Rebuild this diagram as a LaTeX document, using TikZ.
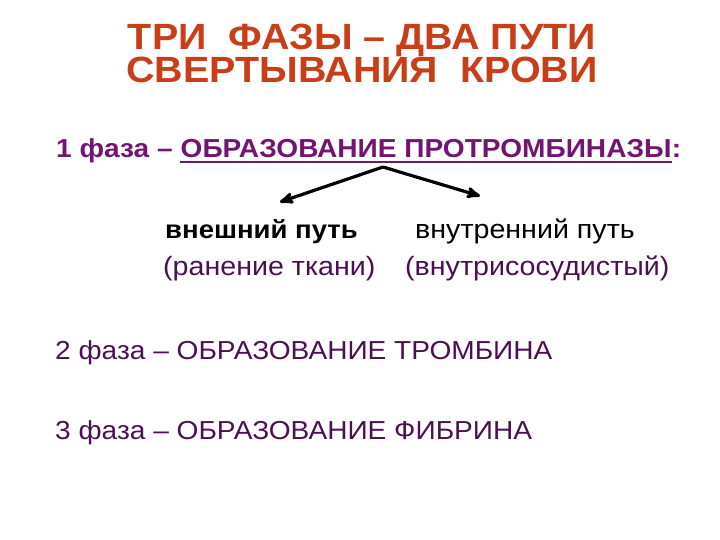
\documentclass[tikz,border=0pt]{standalone}
\usepackage{fontspec}
\setmainfont{Liberation Sans}[FakeStretch=1.08]
\definecolor{titlered}{RGB}{200,62,24}
\definecolor{phasepurple}{RGB}{115,20,115}
\definecolor{darkpurple}{RGB}{75,16,80}
\usetikzlibrary{arrows,positioning,calc}

\begin{document}
\begin{tikzpicture}[x=1pt,y=-1pt,
        title/.style = {anchor = base, text = titlered, font = \fontsize{36.5}{36.5}\selectfont\bfseries, inner sep = 0pt},
        phase/.style = {anchor = base west, text = darkpurple, font = \fontsize{26}{26}\selectfont, inner sep = 0pt},
        first/.style = {anchor = base west, text = phasepurple, font = \fontsize{26}{26}\selectfont\bfseries, inner sep = 0pt},
        route/.style = {anchor = base west, font = \fontsize{26.5}{26.5}\selectfont, inner sep = 0pt},
        line/.style = {draw = black, line width = 3.2pt, ->, >=stealth'}]
    \useasboundingbox (0,0) rectangle (720,540);
    \path node[title] (t1) at (362,50) {ТРИ\ \ ФАЗЫ – ДВА ПУТИ};
    \path node[title] (t2) at (362,83) {СВЕРТЫВАНИЯ\ \ КРОВИ};
    % 1 phase, with the underlined part
    \path node[first] (ph1) at (56,158) {1 фаза –};
    \path node[first] (ph1u) at ([xshift=7.5pt]ph1.base east) {ОБРАЗОВАНИЕ ПРОТРОМБИНАЗЫ};
    \path node[first] (ph1c) at (ph1u.base east) {:};
    \draw[phasepurple, line width = 2pt] ([yshift=-4.5pt]ph1u.base west) -- ([yshift=-4.5pt]ph1u.base east);
    \path node[route, font = \fontsize{25.5}{25.5}\selectfont\bfseries] (ext) at (165,238) {внешний путь};
    \path node[route] (int) at (415,238) {внутренний путь};
    \path node[route, text = darkpurple] (extc) at (163,275) {(ранение ткани)};
    \path node[route, text = darkpurple] (intc) at (405,275) {(внутрисосудистый)};
    \foreach \n/\y/\name in {2/359/ТРОМБИНА, 3/439/ФИБРИНА}
        \path node[phase] (ph\n) at (55,\y) {\n\ фаза – ОБРАЗОВАНИЕ \name};
    \coordinate (apex) at (383,167);
    \coordinate (extend) at (280,202);
    \coordinate (intend) at (480,196);
    \path[line] (apex) -- (extend);
    \path[line] (apex) -- (intend);
\end{tikzpicture}
\end{document}
